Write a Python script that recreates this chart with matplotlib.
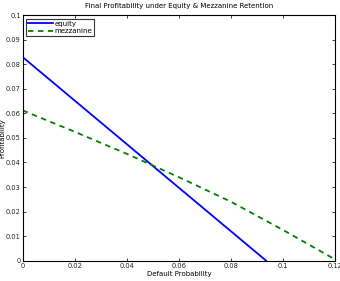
import matplotlib
matplotlib.use("Agg")
import matplotlib.pyplot as plt

# default probability vs profitability
equity_x = [0, 0.0935]
equity_y = [0.0829, 0]
mezz_x = [0, 0.02, 0.04, 0.06, 0.08, 0.10, 0.12]
mezz_y = [0.0612, 0.0525, 0.0435, 0.034, 0.024, 0.0125, 0.0005]

xticks = [0, 0.02, 0.04, 0.06, 0.08, 0.1, 0.12]
xlabels = ["0", "0.02", "0.04", "0.06", "0.08", "0.1", "0.12"]
yticks = [0, 0.01, 0.02, 0.03, 0.04, 0.05, 0.06, 0.07, 0.08, 0.09, 0.1]
ylabels = ["0", "0.01", "0.02", "0.03", "0.04", "0.05", "0.06", "0.07", "0.08", "0.09", "0.1"]

fig = plt.figure(figsize=(3.4, 2.81), dpi=100)
ax = fig.add_axes([0.0668, 0.0722, 0.919, 0.874])

ax.plot(equity_x, equity_y, color=(0, 0, 1), lw=1.3, label="equity")
ax.plot(mezz_x, mezz_y, color=(0, 0.5, 0), lw=1.3, ls="--", dashes=(3, 2.5), label="mezzanine")

ax.set_xlim(0, 0.12)
ax.set_ylim(0, 0.1)
ax.set_xticks(xticks)
ax.set_xticklabels(xlabels)
ax.set_yticks(yticks)
ax.set_yticklabels(ylabels)
ax.tick_params(direction="in", length=2.5, width=0.6, labelsize=4.8, pad=1.5,
               top=True, right=True, colors="#222222")
for s in ax.spines.values():
    s.set_linewidth(0.8)

ax.set_xlabel("Default Probability", fontsize=5, labelpad=1.5)
ax.set_ylabel("Profitability", fontsize=5, labelpad=0.5)
ax.set_title("Final Profitability under Equity & Mezzanine Retention", fontsize=5, pad=5)

leg = ax.legend(loc="upper left", fontsize=5, frameon=True, fancybox=False,
                borderpad=0.3, labelspacing=0.2, handlelength=3.5, handletextpad=0.3,
                borderaxespad=0.5)
leg.get_frame().set_edgecolor("black")
leg.get_frame().set_linewidth(0.8)

fig.savefig("out.png", dpi=100)
